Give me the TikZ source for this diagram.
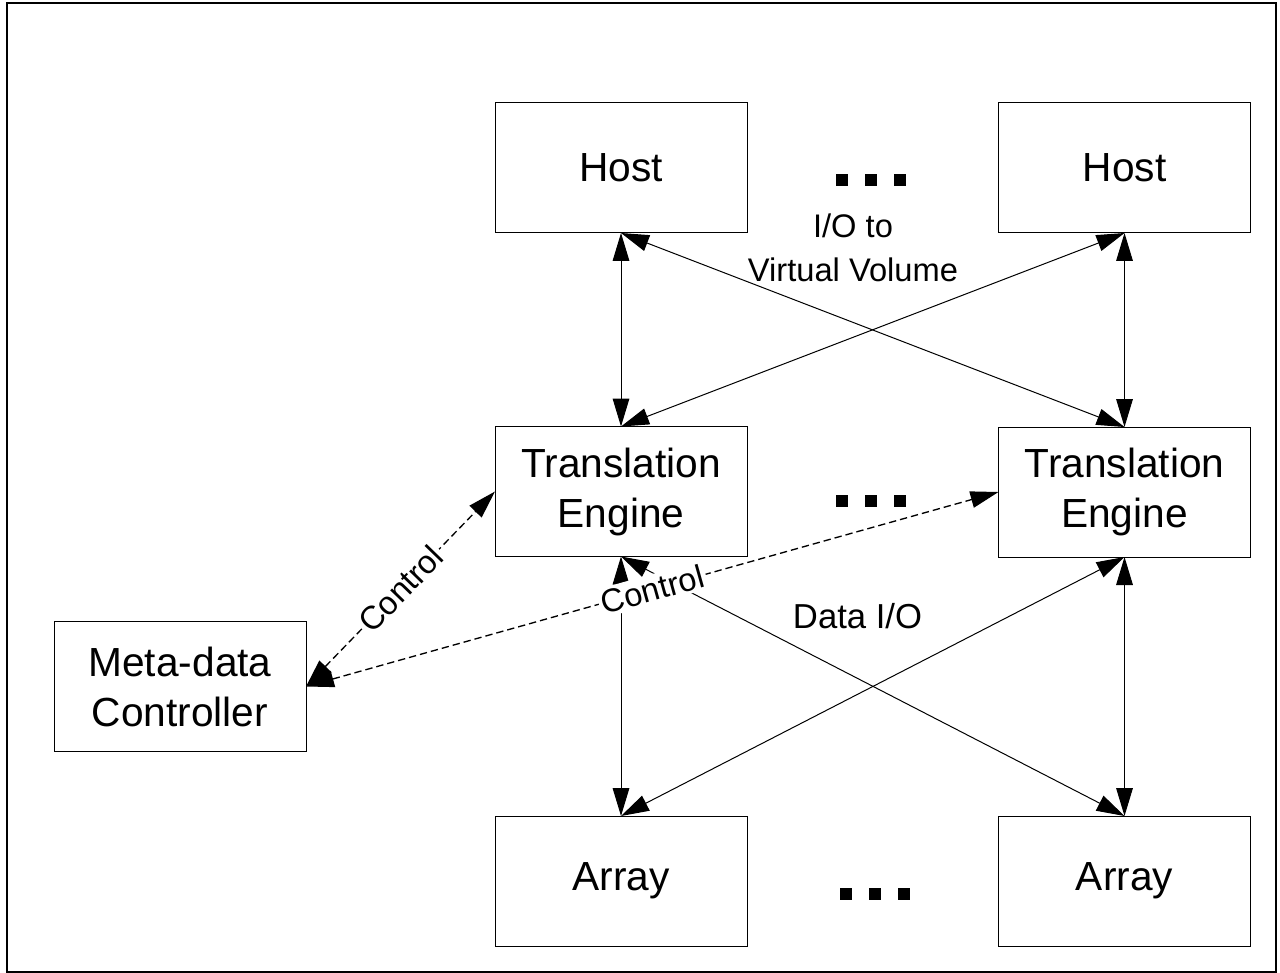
\documentclass[tikz,border=0pt]{standalone}
\usepackage{fontspec}
\setmainfont{Liberation Sans}
\usetikzlibrary{arrows.meta}
\begin{document}
\begin{tikzpicture}[x=0.75pt,y=-0.75pt,
  box/.style={draw, line width=0.75pt, minimum width=189pt, minimum height=97.5pt,
    inner sep=0pt, outer sep=0pt, align=center, font=\fontsize{30.5}{37.5}\selectfont},
  link/.style={line width=0.75pt, {Triangle[length=21pt,width=12.5pt]}-{Triangle[length=21pt,width=12.5pt]}},
  ctrl/.style={link, line width=1pt, dash pattern=on 5.5pt off 3pt},
  lbl/.style={font=\fontsize{24.5}{32}\selectfont, inner sep=1pt},
  clbl/.style={lbl, sloped, fill=white, inner sep=2pt}
]
\useasboundingbox (0,0) rectangle (1280,973);
\draw[line width=1.5pt] (7,3) rectangle (1276,972);

\node[box] (h1) at (621,168) {Host};
\node[box] (h2) at (1124.5,168) {Host};
\node[box] (t1) at (621,491.5) {Translation\\Engine};
\node[box] (t2) at (1124.5,492) {Translation\\Engine};
\node[box] (a1) at (621,881) {Array};
\node[box] (a2) at (1124.5,881) {Array};
\node[box] (m) at (180,686.5) {Meta-data\\Controller};

% ellipsis squares
\foreach \x in {842,871,900} {
  \fill (\x-6,174) rectangle (\x+6,186);
  \fill (\x-6,495) rectangle (\x+6,507);
  \fill (\x-2.5,888) rectangle (\x+9.5,899.5);
}

\draw[link] (h1.south) -- (t1.north);
\draw[link] (h2.south) -- (t2.north);
\draw[link] (h1.south) -- (t2.north);
\draw[link] (h2.south) -- (t1.north);
\draw[link] (t1.south) -- (a1.north);
\draw[link] (t2.south) -- (a2.north);
\draw[link] (t1.south) -- (a2.north);
\draw[link] (t2.south) -- (a1.north);

\node[lbl, anchor=base] (io1) at (853,238) {I/O to};
\node[lbl, anchor=base] (io2) at (853,282) {Virtual Volume};
\node[lbl, anchor=base, font=\fontsize{26}{32}\selectfont] (dio) at (857.5,628) {Data I/O};

\draw[ctrl] (m.east) -- node[clbl] {Control} (t1.west);
\draw[ctrl] (m.east) -- node[clbl] {Control} (t2.west);
\end{tikzpicture}
\end{document}
